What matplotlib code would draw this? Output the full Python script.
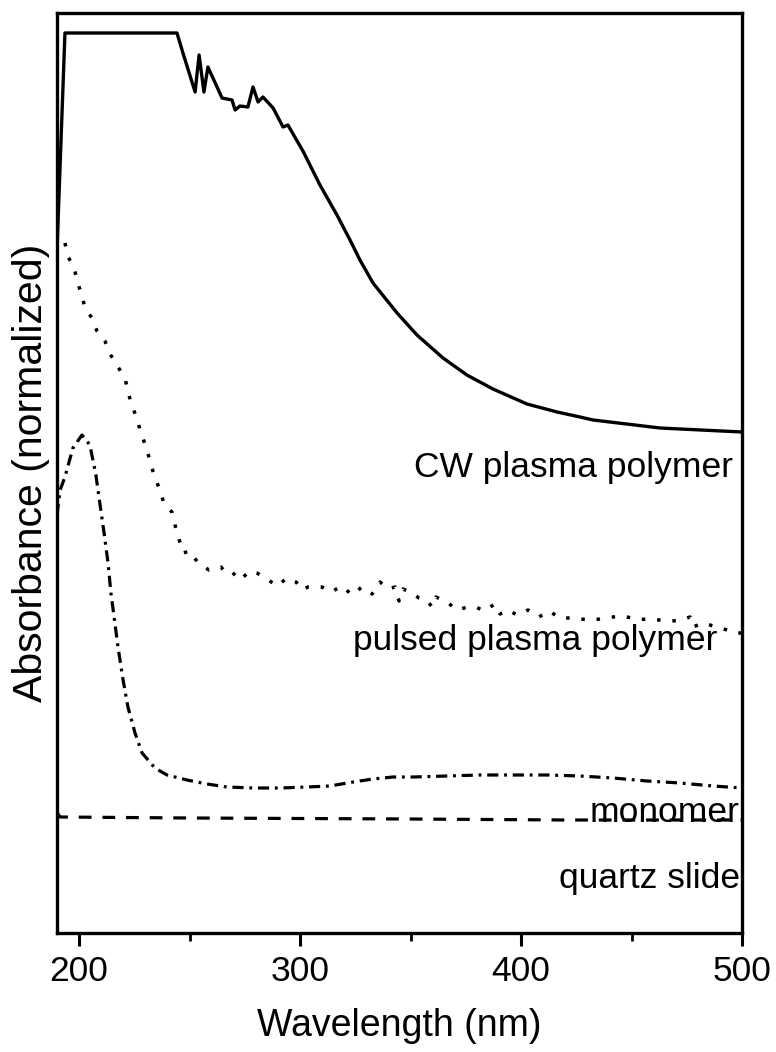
import matplotlib
matplotlib.use('Agg')
import matplotlib.pyplot as plt
from matplotlib.ticker import FixedLocator

plt.rcParams['font.family'] = ['Liberation Sans', 'DejaVu Sans']

# CW plasma polymer (solid)
cw_nm = [190.0, 193.6, 244.3, 247.0, 252.5, 254.3, 256.5, 258.3, 264.7, 269.2,
         270.6, 272.8, 276.4, 278.7, 281.0, 283.2, 287.8, 292.3, 294.5, 301.3,
         309.0, 316.7, 322.6, 327.1, 333.0, 343.9, 352.9, 364.7, 375.5, 387.3,
         402.7, 416.3, 426.7, 432.6, 462.9, 500.0]
cw_abs = [683, 900, 900, 880, 841, 878, 841, 866, 835, 833,
          823, 827, 826, 846, 831, 836, 825, 806, 808, 782,
          748, 718, 693, 673, 650, 620, 598, 575, 558, 544,
          529, 521, 516, 513, 505, 501]

# pulsed plasma polymer (dotted)
pp_nm = [193.6, 195.0, 197.7, 199.1, 200.9, 202.7, 205.8, 208.1, 211.7, 214.0,
         217.6, 220.8, 222.1, 223.9, 226.2, 228.0, 230.3, 232.1, 233.9, 236.2,
         238.4, 242.0, 243.4, 245.2, 247.0, 250.2, 253.8, 258.8, 264.2, 266.5,
         269.2, 272.8, 277.3, 280.5, 285.0, 289.6, 294.1, 298.2, 300.9, 303.6,
         309.9, 314.0, 319.0, 323.5, 328.0, 332.6, 336.2, 339.8, 343.0, 344.8,
         346.6, 350.7, 353.8, 357.4, 359.7, 361.5, 366.5, 371.0, 374.2, 379.6,
         383.2, 388.2, 390.5, 394.1, 398.2, 403.2, 408.1, 412.7, 417.6, 423.5,
         426.7, 432.6, 441.6, 445.7, 452.5, 462.9, 470.6, 476.5, 477.8, 482.3,
         488.7, 493.2, 496.8, 500.0]
pp_abs = [690, 676, 666, 652, 640, 625, 615, 602, 592, 579,
          566, 555, 541, 528, 514, 500, 486, 472, 458, 445,
          430, 421, 408, 394, 380, 382, 370, 363, 366, 360,
          361, 353, 362, 360, 354, 347, 355, 351, 343, 346,
          346, 341, 347, 338, 346, 339, 351, 344, 346, 332,
          344, 340, 335, 333, 326, 336, 331, 323, 325, 326,
          322, 329, 319, 323, 318, 323, 316, 322, 315, 315,
          314, 313, 316, 317, 314, 313, 312, 316, 306, 310,
          306, 303, 300, 300]

# monomer (dash-dot)
mo_nm = [190.0, 191.4, 193.6, 197.2, 201.3, 204.9, 207.6, 209.5, 211.3, 213.1,
         214.4, 216.2, 217.6, 219.9, 222.1, 225.3, 228.5, 234.3, 239.8, 248.8,
         257.9, 266.9, 278.7, 290.9, 303.1, 313.5, 324.0, 333.0, 342.1, 351.1,
         366.5, 381.4, 396.4, 411.8, 426.7, 441.6, 457.0, 471.9, 486.9, 500.0]
mo_abs = [418, 443, 456, 485, 498, 488, 458, 428, 400, 370,
          340, 310, 286, 253, 226, 200, 180, 165, 158, 153,
          149, 146, 145, 145, 146, 147, 151, 154, 156, 156,
          157, 158, 158, 158, 157, 155, 152, 150, 147, 145]

# quartz slide (dashed)
qz_nm = [190.0, 191.5, 250.0, 350.0, 420.0, 500.0]
qz_abs = [120, 116, 115, 114, 113, 113]

labels = ['CW plasma polymer', 'pulsed plasma polymer', 'monomer', 'quartz slide']

fig = plt.figure(figsize=(7.76, 10.52), dpi=100)
ax = fig.add_axes([57 / 776, 1 - 933 / 1052, 685 / 776, 920 / 1052])

ax.plot(cw_nm, cw_abs, color='black', lw=2.4, solid_joinstyle='round')
ax.plot(pp_nm, pp_abs, color='black', lw=2.5, linestyle=(0, (1, 3.4)))
ax.plot(mo_nm, mo_abs, color='black', lw=2.3, linestyle=(0, (3.5, 1.8, 0.9, 1.8)))
ax.plot(qz_nm, qz_abs, color='black', lw=2.3, linestyle=(0, (4, 3.4)))

fs = 25.5
ax.text(496, 456, labels[0], ha='right', va='baseline', fontsize=fs)
ax.text(489, 283, labels[1], ha='right', va='baseline', fontsize=fs)
ax.text(499, 111, labels[2], ha='right', va='baseline', fontsize=fs)
ax.text(499, 45, labels[3], ha='right', va='baseline', fontsize=fs)

ax.set_xlim(190, 500)
ax.set_ylim(0, 920)
ax.xaxis.set_major_locator(FixedLocator([200, 300, 400, 500]))
ax.xaxis.set_minor_locator(FixedLocator([250, 350, 450]))
ax.set_yticks([])
ax.tick_params(axis='x', which='major', direction='out', length=9, width=2.2,
               pad=7, labelsize=25.5)
ax.tick_params(axis='x', which='minor', direction='out', length=6, width=2)
for s in ax.spines.values():
    s.set_linewidth(2.4)

ax.set_xlabel('Wavelength (nm)', fontsize=27, labelpad=14)
ax.set_ylabel('Absorbance (normalized)', fontsize=29.5, labelpad=5)

fig.savefig('out.png', dpi=100)
